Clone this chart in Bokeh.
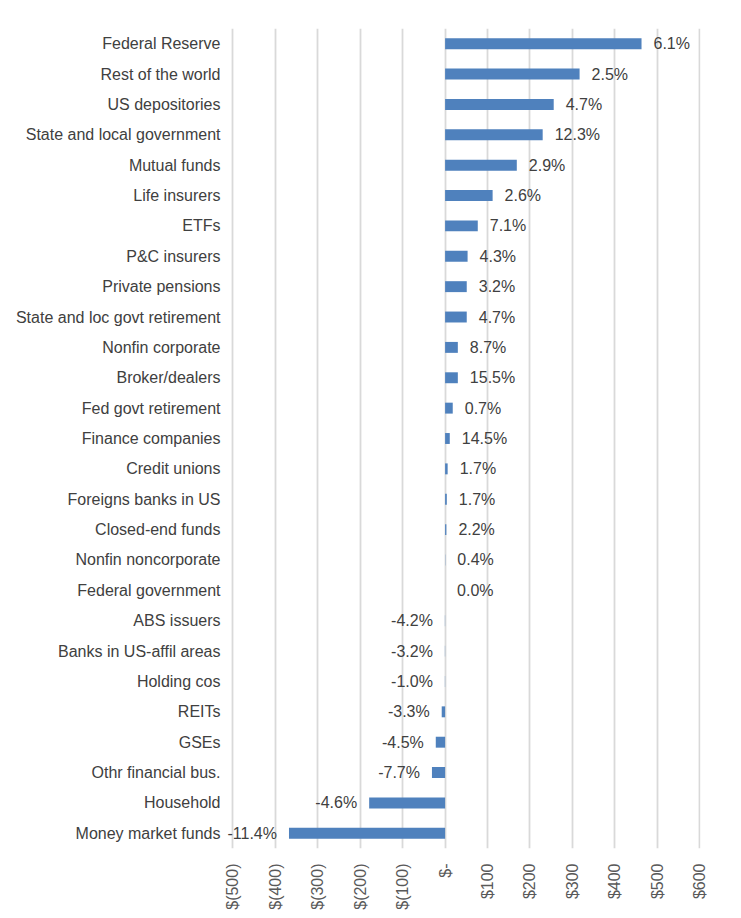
import math
from bokeh.plotting import figure
from bokeh.models import FactorRange, Range1d, FixedTicker, ColumnDataSource, LabelSet
from bokeh.core.properties import value
from bokeh.embed import file_html
from bokeh.resources import INLINE

categories = [
    "Federal Reserve", "Rest of the world", "US depositories", "State and local government",
    "Mutual funds", "Life insurers", "ETFs", "P&C insurers", "Private pensions",
    "State and loc govt retirement", "Nonfin corporate", "Broker/dealers",
    "Fed govt retirement", "Finance companies", "Credit unions", "Foreigns banks in US",
    "Closed-end funds", "Nonfin noncorporate", "Federal government", "ABS issuers",
    "Banks in US-affil areas", "Holding cos", "REITs", "GSEs", "Othr financial bus.",
    "Household", "Money market funds",
]
amounts = [463, 317, 256, 230, 169, 112, 77, 53, 51, 51, 30, 30, 18, 11, 6, 4, 3,
           0.5, 0, -0.5, -0.5, -0.5, -8, -22, -31, -179, -368]
pct_labels = ["6.1%", "2.5%", "4.7%", "12.3%", "2.9%", "2.6%", "7.1%", "4.3%", "3.2%",
              "4.7%", "8.7%", "15.5%", "0.7%", "14.5%", "1.7%", "1.7%", "2.2%", "0.4%",
              "0.0%", "-4.2%", "-3.2%", "-1.0%", "-3.3%", "-4.5%", "-7.7%", "-4.6%", "-11.4%"]
tick_values = [-500, -400, -300, -200, -100, 0, 100, 200, 300, 400, 500, 600]
tick_labels = ["$(500)", "$(400)", "$(300)", "$(200)", "$(100)", "$-",
               "$100", "$200", "$300", "$400", "$500", "$600"]

FONT = "Liberation Sans"

src = ColumnDataSource(dict(
    cat=categories,
    amt=amounts,
    lab=pct_labels,
))
pos = ColumnDataSource(dict(
    cat=[c for c, a in zip(categories, amounts) if a >= 0],
    amt=[a for a in amounts if a >= 0],
    lab=[l for l, a in zip(pct_labels, amounts) if a >= 0],
))
neg = ColumnDataSource(dict(
    cat=[c for c, a in zip(categories, amounts) if a < 0],
    amt=[a for a in amounts if a < 0],
    lab=[l for l, a in zip(pct_labels, amounts) if a < 0],
))

p = figure(
    y_range=FactorRange(*reversed(categories)),
    x_range=Range1d(-520, 602),
    frame_width=476, frame_height=820,
    min_border_left=224, min_border_right=32, min_border_top=28, min_border_bottom=64,
    output_backend="svg", toolbar_location=None,
)
p.outline_line_color = None
p.background_fill_color = "white"

p.hbar(y="cat", left=0, right="amt", height=0.36, source=src,
       fill_color="#4f81bd", line_color=None)

for s, align, off in ((pos, "left", 12), (neg, "right", -12)):
    p.add_layout(LabelSet(x="amt", y="cat", text="lab", x_offset=off, source=s,
                          text_align=align, text_baseline="middle", text_font=value(FONT),
                          text_font_size="16px", text_color="#404040"))

# x axis
p.xaxis.ticker = FixedTicker(ticks=tick_values)
p.xaxis.major_label_overrides = {v: l for v, l in zip(tick_values, tick_labels)}
p.xaxis.major_label_orientation = math.pi / 2
p.xaxis.axis_line_color = None
p.xaxis.major_tick_line_color = None
p.xaxis.minor_tick_line_color = None
p.xaxis.major_label_text_font = FONT
p.xaxis.major_label_text_font_size = "16px"
p.xaxis.major_label_text_color = "#595959"
p.xaxis.major_label_standoff = 9

p.xgrid.grid_line_color = "#d9d9d9"
p.xgrid.grid_line_width = 1.8
p.ygrid.grid_line_color = None

# y axis
p.yaxis.axis_line_color = None
p.yaxis.major_tick_line_color = None
p.yaxis.minor_tick_line_color = None
p.yaxis.major_label_text_font = FONT
p.yaxis.major_label_text_font_size = "16px"
p.yaxis.major_label_text_color = "#404040"
p.yaxis.major_label_standoff = -2

open("out.html", "w").write(file_html(p, INLINE))
